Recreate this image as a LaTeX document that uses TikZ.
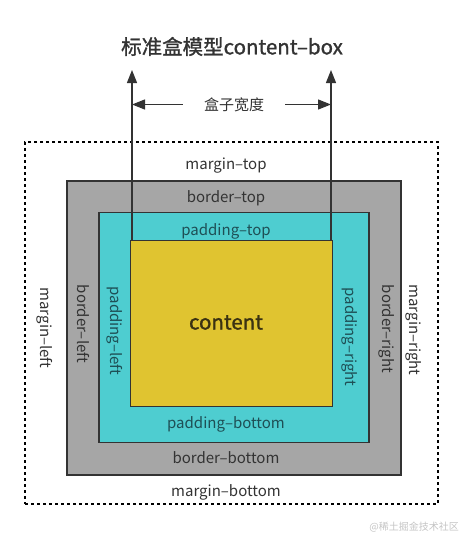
\documentclass[tikz,border=0pt]{standalone}
\usepackage{fontspec}
\setmainfont{Noto Sans CJK SC}
\newfontfamily\medfont{Noto Sans CJK SC}[FakeBold=1.2]
\usetikzlibrary{arrows.meta}
\definecolor{bordergray}{HTML}{A6A6A6}
\definecolor{padcyan}{HTML}{4ECDD0}
\definecolor{contyellow}{HTML}{E0C430}
\definecolor{edge}{HTML}{333333}
\definecolor{txt}{HTML}{333333}
\definecolor{cyantxt}{HTML}{1E4F55}
\definecolor{yeltxt}{HTML}{3A3212}
\definecolor{wm}{HTML}{C4C4C4}
\tikzset{
  boxrect/.style={draw=edge, line width=1.5pt, inner sep=0pt, outer sep=0pt},
  lbl/.style={inner sep=0pt, font=\fontsize{15}{18}\selectfont, text=txt},
  arr/.style={draw=edge, line width=1.4pt, -{Triangle[length=13pt,width=10pt]}}
}
\begin{document}
\begin{tikzpicture}[x=1pt,y=-1pt]
\useasboundingbox (0,0) rectangle (463,536);
% boxes
\node[draw=black, line width=1.3pt, dash pattern=on 3pt off 3pt, inner sep=0pt, minimum width=413pt, minimum height=362pt] (margin) at (231.5,323) {};
\node[boxrect, fill=bordergray, minimum width=334pt, minimum height=294pt] (border) at (234,328) {};
\node[boxrect, fill=padcyan, minimum width=270pt, minimum height=230pt] (padding) at (234,327.5) {};
\node[boxrect, fill=contyellow, minimum width=202pt, minimum height=166pt] (content) at (231.5,323.5) {};
% labels
\node[font=\medfont\fontsize{20.5}{24}\selectfont, text=txt, inner sep=0pt] (title) at (232,46.5) {标准盒模型content–box};
\node[lbl] (width) at (234,104.5) {盒子宽度};
\node[lbl] (mt) at (226,166) {margin–top};
\node[lbl] (bt) at (226,198) {border–top};
\node[lbl, text=cyantxt] (pt) at (226,231) {padding–top};
\node[font=\medfont\fontsize{20.5}{24}\selectfont, text=yeltxt, inner sep=0pt] (ct) at (226,322.5) {content};
\node[lbl, text=cyantxt] (pb) at (226,424) {padding–bottom};
\node[lbl] (bb) at (226,458) {border–bottom};
\node[lbl] (mb) at (226,492) {margin–bottom};
\node[lbl, rotate=-90] (ml) at (45,328) {margin–left};
\node[lbl, rotate=-90] (bl) at (83,324) {border–left};
\node[lbl, rotate=-90, text=cyantxt] (pl) at (115,331) {padding–left};
\node[lbl, rotate=-90, text=cyantxt] (pr) at (350,337) {padding–right};
\node[lbl, rotate=-90] (br) at (387,329) {border–right};
\node[lbl, rotate=-90] (mr) at (414,330) {margin–right};
\node[inner sep=0pt, font=\fontsize{10}{12}\selectfont, text=wm, anchor=east] (wmk) at (459,527) {@稀土掘金技术社区};
% dimension arrows
\coordinate (lt) at ([xshift=1.5pt]content.north west |- 0,70);
\coordinate (rt) at ([xshift=-1.5pt]content.north east |- 0,70);
\coordinate (lm) at (lt |- width);
\coordinate (rm) at (rt |- width);
\draw[arr] ([xshift=1.5pt]content.north west) -- (lt);
\draw[arr] ([xshift=-1.5pt]content.north east) -- (rt);
\draw[arr] ([xshift=-21pt]width.west) -- (lm);
\draw[arr] ([xshift=21pt]width.east) -- (rm);
\end{tikzpicture}
\end{document}
